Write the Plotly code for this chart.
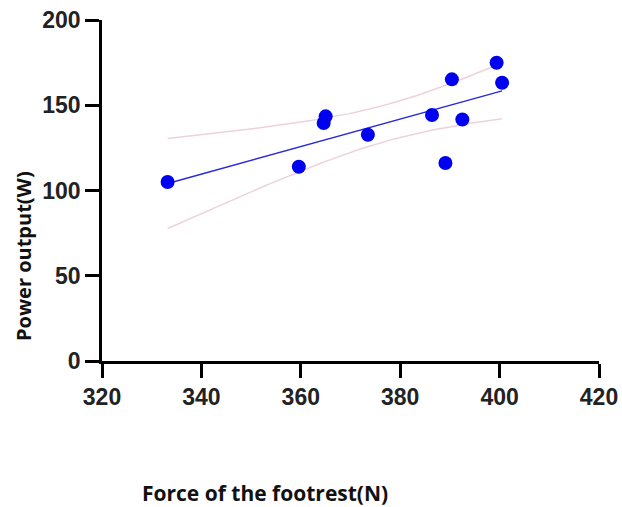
import numpy as np
import plotly.graph_objects as go

# Data
force_n = [333.2, 359.6, 364.6, 365.0, 373.5, 386.4, 389.1, 390.4, 392.5, 399.4, 400.5]
power_w = [105.0, 113.9, 139.6, 143.5, 132.7, 144.3, 116.1, 165.2, 141.6, 174.9, 163.2]
x_ticks = [320, 340, 360, 380, 400, 420]
y_ticks = [0, 50, 100, 150, 200]

x = np.array(force_n)
y = np.array(power_w)
n = len(x)
slope, intercept = np.polyfit(x, y, 1)
xs = np.linspace(x.min(), x.max(), 60)
fit = slope * xs + intercept
resid = y - (slope * x + intercept)
s = np.sqrt(np.sum(resid**2) / (n - 2))
t = 2.262  # t(0.975, df=9)
se = s * np.sqrt(1 / n + (xs - x.mean())**2 / np.sum((x - x.mean())**2))
upper = fit + t * se
lower = fit - t * se

band_color = "rgba(235,205,215,0.9)"
fig = go.Figure()
fig.add_trace(go.Scatter(x=xs, y=upper, mode="lines", line=dict(color=band_color, width=1.5), hoverinfo="skip"))
fig.add_trace(go.Scatter(x=xs, y=lower, mode="lines", line=dict(color=band_color, width=1.5), hoverinfo="skip"))
fig.add_trace(go.Scatter(x=xs, y=fit, mode="lines", line=dict(color="#2a2ad8", width=1.5)))
fig.add_trace(go.Scatter(x=force_n, y=power_w, mode="markers",
                         marker=dict(color="#0000f0", size=14, line=dict(width=0))))

tick_font = dict(family="Liberation Sans, Arial", size=23, color="#222222", weight="bold")
L, R, T, B = 102, 599, 20, 361
fig.update_layout(
    width=622, height=507,
    margin=dict(l=L, r=622 - R, t=T, b=507 - B, autoexpand=False),
    paper_bgcolor="white", plot_bgcolor="white",
    showlegend=False,
    xaxis=dict(range=[320, 420], tickvals=x_ticks, ticks="outside", ticklen=14, tickwidth=2.5,
               tickcolor="black", showline=True, linecolor="black", linewidth=2.5,
               showgrid=False, zeroline=False, tickfont=tick_font, automargin=False),
    yaxis=dict(range=[0, 200], tickvals=y_ticks, ticks="outside", ticklen=14, tickwidth=2.5,
               tickcolor="black", showline=True, linecolor="black", linewidth=2.5,
               showgrid=False, zeroline=False, tickfont=tick_font, automargin=False),
)
fig.add_annotation(text="<b>Force of the footrest(N)</b>", xref="paper", yref="paper",
                   x=(265 - L) / (R - L), y=(B - 493) / (B - T), showarrow=False,
                   font=dict(family="Open Sans", size=21, color="#111111"),
                   xanchor="center", yanchor="middle")
fig.add_annotation(text="<b>Power output(W)</b>", xref="paper", yref="paper",
                   x=(23 - L) / (R - L), y=(B - 256) / (B - T), textangle=-90, showarrow=False,
                   font=dict(family="Open Sans", size=20, color="#111111"),
                   xanchor="center", yanchor="middle")
fig.write_html("out.html", config={"displayModeBar": False},
               post_script="document.body.style.margin='0';document.body.style.padding='0';"
                           "document.body.style.overflow='hidden';"
                           "document.documentElement.style.overflow='hidden';")
